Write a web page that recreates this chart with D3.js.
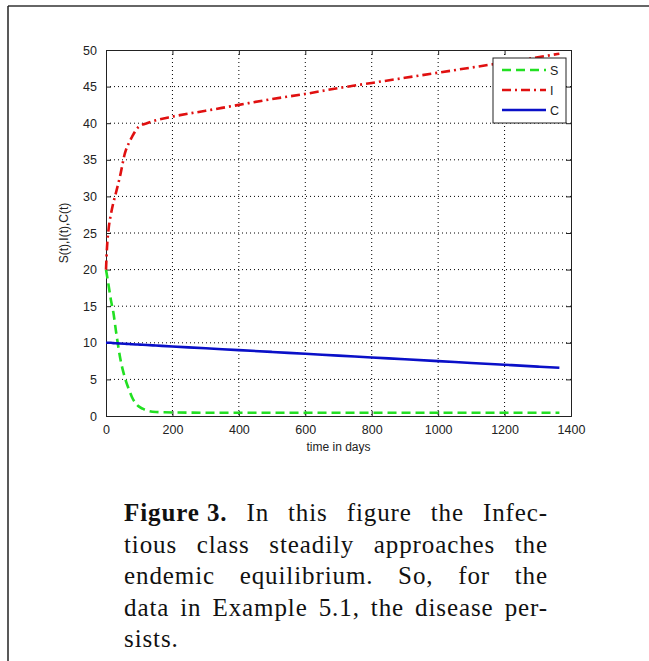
<!DOCTYPE html>
<html>
<head>
<meta charset="utf-8">
<script src="https://cdn.jsdelivr.net/npm/d3@7"></script>
<style>
  body { margin: 0; background: #fff; }
  svg { display: block; }
</style>
</head>
<body>
<div id="chart"></div>
<script>
// time points (days) and the three classes
let days = [0, 3, 8, 15, 22, 30, 42, 57, 70, 78, 96, 110, 123, 150, 200, 300, 400, 500, 600, 700, 800, 900, 1000, 1100, 1200, 1300, 1365]
let susceptible = [20, 19.2, 17.8, 15.8, 14.2, 11.6, 8.1, 5.2, 3.5, 2.6, 1.4, 1.0, 0.75, 0.55, 0.48, 0.45, 0.45, 0.45, 0.45, 0.45, 0.45, 0.45, 0.45, 0.45, 0.45, 0.45, 0.45]
let infectious = [20, 23, 25.6, 27.6, 29.1, 30.5, 32.7, 35.9, 37.4, 38.1, 39.4, 39.8, 40.0, 40.4, 40.9, 41.7, 42.5, 43.3, 44.0, 44.8, 45.5, 46.2, 46.9, 47.6, 48.3, 49.0, 49.5]
let carriers = [10, 10, 10, 10, 9.95, 9.93, 9.9, 9.86, 9.83, 9.8, 9.76, 9.73, 9.7, 9.63, 9.5, 9.25, 9.0, 8.75, 8.5, 8.25, 8.0, 7.75, 7.5, 7.25, 7.0, 6.75, 6.6]
let xTicks = [0, 200, 400, 600, 800, 1000, 1200, 1400]
let yTicks = [0, 5, 10, 15, 20, 25, 30, 35, 40, 45, 50]
let legendNames = ["S", "I", "C"]
let captionLines = [
    ["Figure 3.", "In", "this", "figure", "the", "Infec-"],
    ["tious", "class", "steadily", "approaches", "the"],
    ["endemic", "equilibrium.", "So,", "for", "the"],
    ["data", "in", "Example", "5.1,", "the", "disease", "per-"],
    ["sists."]
]

let svg = d3.select("#chart").append("svg")
    .attr("width", 649)
    .attr("height", 661)

// page frame
svg.append("line").attr("x1", 8).attr("x2", 649).attr("y1", 6).attr("y2", 6)
    .attr("stroke", "#666").attr("stroke-width", 2)
svg.append("line").attr("x1", 8).attr("x2", 8).attr("y1", 6).attr("y2", 661)
    .attr("stroke", "#222").attr("stroke-width", 1.5)

let plotLeft = 106, plotRight = 571, plotTop = 50, plotBottom = 416
let x = d3.scaleLinear().domain([0, 1400]).range([plotLeft, plotRight])
let y = d3.scaleLinear().domain([0, 50]).range([plotBottom, plotTop])

// grid
svg.selectAll(".vgrid").data(xTicks.slice(1, -1)).enter().append("line")
    .attr("x1", d => x(d)).attr("x2", d => x(d)).attr("y1", plotTop).attr("y2", plotBottom)
    .attr("stroke", "#000").attr("stroke-width", 1).attr("stroke-dasharray", "1,3")
svg.selectAll(".hgrid").data(yTicks.slice(1, -1)).enter().append("line")
    .attr("x1", plotLeft).attr("x2", plotRight).attr("y1", d => y(d)).attr("y2", d => y(d))
    .attr("stroke", "#000").attr("stroke-width", 1).attr("stroke-dasharray", "1,3")

// axes with inward ticks
let tickFont = "'Liberation Sans', Arial, sans-serif"
let gx = svg.append("g").attr("transform", `translate(0,${plotBottom})`)
    .call(d3.axisBottom(x).tickValues(xTicks).tickFormat(d3.format("d")).tickSize(-5).tickPadding(9))
let gxTop = svg.append("g").attr("transform", `translate(0,${plotTop})`)
    .call(d3.axisTop(x).tickValues(xTicks).tickSize(-5).tickFormat(""))
let gy = svg.append("g").attr("transform", `translate(${plotLeft},0)`)
    .call(d3.axisLeft(y).tickValues(yTicks).tickFormat(d3.format("d")).tickSize(-5).tickPadding(9))
let gyRight = svg.append("g").attr("transform", `translate(${plotRight},0)`)
    .call(d3.axisRight(y).tickValues(yTicks).tickSize(-5).tickFormat(""))
;[gx, gxTop, gy, gyRight].forEach(g => {
    g.selectAll("path").attr("stroke", "#222").attr("stroke-width", 1)
    g.selectAll("line").attr("stroke", "#222")
    g.selectAll("text").attr("font-family", tickFont).attr("font-size", 12.5).attr("fill", "#222")
})

// axis labels
svg.append("text").attr("x", (plotLeft + plotRight) / 2).attr("y", 451)
    .attr("text-anchor", "middle").attr("font-family", tickFont).attr("font-size", 12)
    .attr("fill", "#222").text("time in days")
svg.append("text").attr("transform", `translate(68,${(plotTop + plotBottom) / 2}) rotate(-90)`)
    .attr("text-anchor", "middle").attr("font-family", tickFont).attr("font-size", 12)
    .attr("fill", "#222").text("S(t),I(t),C(t)")

// series
let series = [
    { values: susceptible, color: "#22e022", dash: "9,5" },
    { values: infectious, color: "#e01010", dash: "9,4,2,4" },
    { values: carriers, color: "#0a10c8", dash: null }
]
series.forEach(s => {
    let line = d3.line()
        .x((d, i) => x(days[i]))
        .y(d => y(d))
        .curve(d3.curveMonotoneX)
    svg.append("path").datum(s.values)
        .attr("d", line)
        .attr("fill", "none")
        .attr("stroke", s.color)
        .attr("stroke-width", 2.6)
        .attr("stroke-dasharray", s.dash)
})

// legend
let lg = svg.append("g")
lg.append("rect").attr("x", 493).attr("y", 58).attr("width", 73).attr("height", 65)
    .attr("fill", "#fff").attr("stroke", "#222").attr("stroke-width", 1)
legendNames.forEach((name, i) => {
    let ly = 70 + i * 20
    lg.append("line").attr("x1", 502).attr("x2", 546).attr("y1", ly).attr("y2", ly)
        .attr("stroke", series[i].color).attr("stroke-width", 2.6)
        .attr("stroke-dasharray", series[i].dash)
    lg.append("text").attr("x", 550).attr("y", ly + 4.5)
        .attr("font-family", tickFont).attr("font-size", 12.5).attr("fill", "#222").text(name)
})

// caption, justified line by line
let capLeft = 124, capRight = 548
let serif = "'Liberation Serif', 'DejaVu Serif', serif"
captionLines.forEach((words, li) => {
    let by = 521 + li * 31.5
    let g = svg.append("g")
    let nodes = words.map((w, wi) => g.append("text")
        .attr("y", by)
        .attr("font-family", serif)
        .attr("font-size", 25)
        .attr("letter-spacing", 0.9)
        .attr("font-weight", li === 0 && wi === 0 ? "bold" : "normal")
        .attr("fill", "#111")
        .text(w))
    let widths = nodes.map(n => n.node().getComputedTextLength())
    let total = d3.sum(widths)
    let last = li === captionLines.length - 1
    let gap = last || words.length < 2 ? 6 : (capRight - capLeft - total) / (words.length - 1)
    let cx = capLeft
    nodes.forEach((n, i) => {
        n.attr("x", cx)
        cx += widths[i] + gap
    })
})
</script>
</body>
</html>
